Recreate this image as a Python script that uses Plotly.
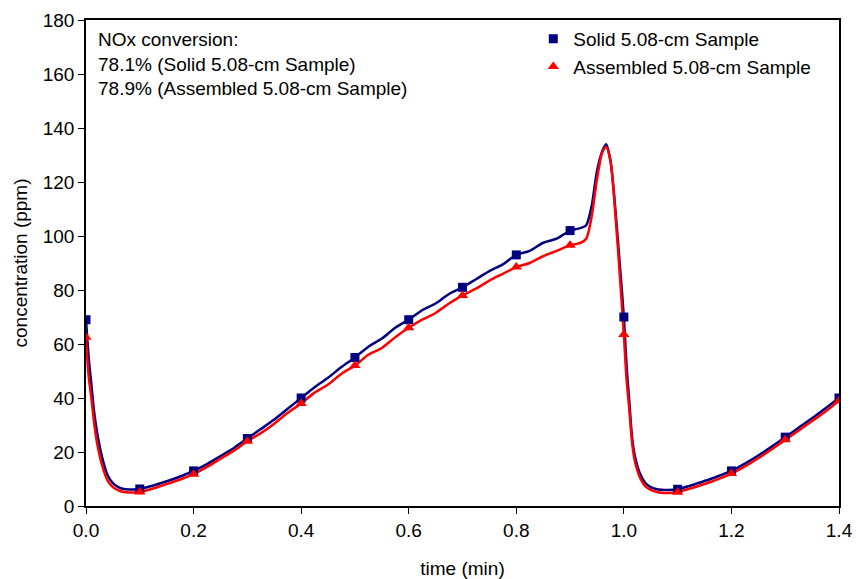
import plotly.graph_objects as go

# dense time grid (min)
t_line = [0, 0.005, 0.01, 0.015, 0.02, 0.03, 0.04, 0.05, 0.06, 0.07, 0.08, 0.09, 0.1,
          0.12, 0.14, 0.16, 0.18, 0.2, 0.225, 0.25, 0.275, 0.3, 0.325, 0.35, 0.375, 0.4,
          0.425, 0.45, 0.475, 0.5, 0.525, 0.55, 0.575, 0.6, 0.625, 0.65, 0.675, 0.7,
          0.725, 0.75, 0.775, 0.8, 0.825, 0.85, 0.875, 0.9, 0.91, 0.92, 0.93, 0.94,
          0.95, 0.96, 0.967, 0.975, 0.985, 0.993, 1.0, 1.005, 1.01, 1.015, 1.02, 1.03,
          1.04, 1.05, 1.06, 1.07, 1.08, 1.09, 1.1, 1.12, 1.14, 1.16, 1.18, 1.2, 1.225,
          1.25, 1.275, 1.3, 1.325, 1.35, 1.375, 1.4]

solid_line = [69, 55, 45, 35, 28, 18, 11.5, 8.5, 7, 6.3, 6.1, 6.1, 6.3,
              7.3, 8.5, 9.8, 11.3, 13, 15.5, 18.5, 21.5, 25, 28.5, 32, 36, 40,
              44, 47.5, 51.5, 55, 59, 62, 66, 69, 72.5, 75, 78.5, 81,
              84, 87, 89.5, 93, 94.5, 97.5, 99, 102, 102.5, 103, 104, 111,
              124, 131.5, 134, 128, 108, 88, 70, 52, 39, 26, 19, 12,
              8.5, 7, 6.3, 6, 5.9, 6, 6.2, 7.3, 8.6, 9.9, 11.4, 13, 15.7,
              18.7, 22, 25.5, 29, 32.5, 36.2, 40]

assembled_line = [62.5, 48, 40, 31, 24, 15, 9.5, 7, 5.8, 5.2, 5, 5, 5.2,
                  6.2, 7.5, 8.8, 10.2, 11.8, 14.5, 17.5, 20.5, 24, 27, 30.5, 34.5, 38,
                  42, 45, 49, 52, 56, 58.5, 62.5, 66, 69, 71.5, 75, 78,
                  80.5, 83.5, 86, 88.5, 90, 92.5, 94.5, 96.6, 97, 97.5, 99, 107,
                  121, 131, 133, 128, 106, 84, 63.5, 47, 36, 24, 17, 10.5,
                  7.3, 6, 5.3, 4.9, 4.8, 4.9, 5.1, 6.3, 7.5, 8.8, 10.3, 12, 14.7,
                  17.7, 21, 24.5, 28, 31.5, 35, 39]

# marker points every 0.1 min
t_mark = [0.0, 0.1, 0.2, 0.3, 0.4, 0.5, 0.6, 0.7, 0.8, 0.9, 1.0, 1.1, 1.2, 1.3, 1.4]
solid_mark = [69, 6.3, 13, 25, 40, 55, 69, 81, 93, 102, 70, 6.2, 13, 25.5, 40]
assembled_mark = [62.5, 5.2, 11.8, 24, 38, 52, 66, 78, 88.5, 96.6, 63.5, 5.1, 12, 24.5, 39]

x_ticks = [0.0, 0.2, 0.4, 0.6, 0.8, 1.0, 1.2, 1.4]
y_ticks = [0, 20, 40, 60, 80, 100, 120, 140, 160, 180]

NAVY = "#000080"
RED = "#FF0000"
FONT = "Arial, Liberation Sans, sans-serif"
FS = 19

fig = go.Figure()
fig.add_trace(go.Scatter(x=t_line, y=solid_line, mode="lines", line=dict(color=NAVY, width=2.5, shape="spline", smoothing=0.8),
                         showlegend=False, hoverinfo="skip"))
fig.add_trace(go.Scatter(x=t_line, y=assembled_line, mode="lines", line=dict(color=RED, width=2.5, shape="spline", smoothing=0.8),
                         showlegend=False, hoverinfo="skip"))
fig.add_trace(go.Scatter(x=t_mark, y=solid_mark, mode="markers", name="Solid 5.08-cm Sample",
                         marker=dict(symbol="square", color=NAVY, size=9)))
fig.add_trace(go.Scatter(x=t_mark, y=assembled_mark, mode="markers", name="Assembled 5.08-cm Sample",
                         marker=dict(symbol="triangle-up", color=RED, size=10)))

fig.add_annotation(x=0, y=1, xref="paper", yref="paper", xanchor="left", yanchor="top",
                   xshift=10, yshift=-7, align="left", showarrow=False,
                   text="NOx conversion:<br>78.1% (Solid 5.08-cm Sample)<br>78.9% (Assembled 5.08-cm Sample)",
                   font=dict(size=FS, color="black", family=FONT))

fig.update_layout(
    width=856, height=579,
    margin=dict(l=86, r=17, t=20, b=73, autoexpand=False),
    paper_bgcolor="white", plot_bgcolor="white",
    font=dict(family=FONT, size=FS, color="black"),
    legend=dict(x=0.594, y=1.0, xanchor="left", yanchor="top", bgcolor="rgba(0,0,0,0)",
                font=dict(size=FS), itemwidth=30, tracegroupgap=0),
    xaxis=dict(range=[0, 1.4], tickvals=x_ticks, tickformat=".1f", showgrid=False, zeroline=False,
               showline=True, linecolor="black", linewidth=1.5, mirror=True, ticks="outside",
               ticklen=6, tickcolor="black", automargin=False,
               title=dict(text="time (min)", font=dict(size=FS), standoff=22)),
    yaxis=dict(range=[0, 180], tickvals=y_ticks, showgrid=False, zeroline=False,
               showline=True, linecolor="black", linewidth=1.5, mirror=True, ticks="outside",
               ticklen=6, tickcolor="black", automargin=False,
               title=dict(text="concentration (ppm)", font=dict(size=FS), standoff=10)),
)

fig.write_html("out.html")
